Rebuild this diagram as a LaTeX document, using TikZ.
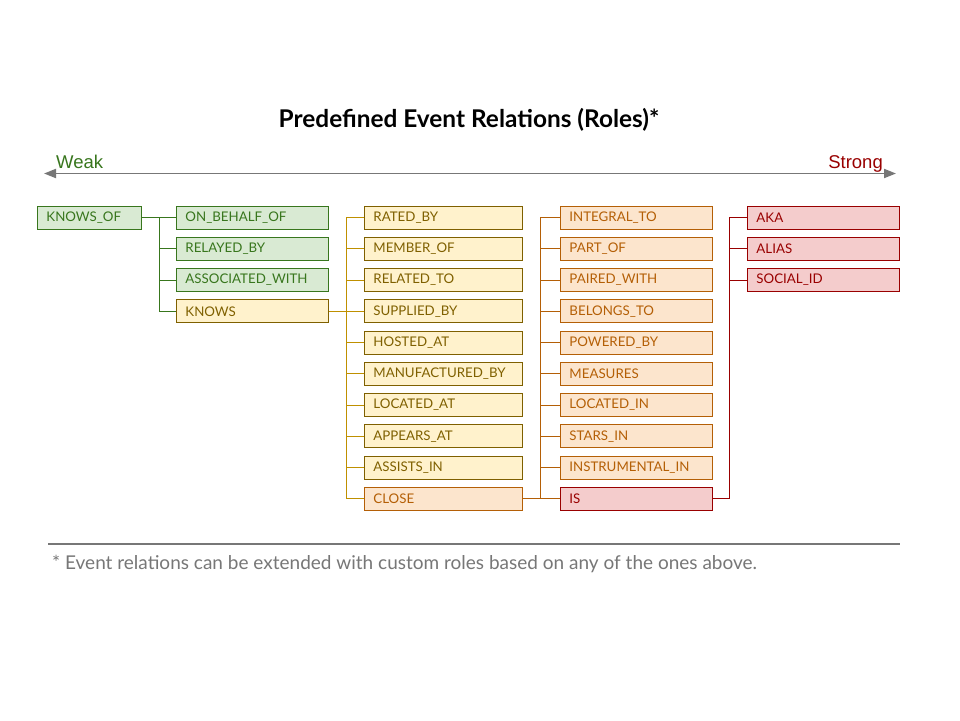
\documentclass[tikz,border=0pt]{standalone}
\usepackage{fontspec}
\setmainfont{Lato}
\newfontfamily\arialfont{Liberation Sans}
\usetikzlibrary{arrows.meta}
\definecolor{gfill}{HTML}{D9EAD3}\definecolor{gline}{HTML}{38761D}
\definecolor{yfill}{HTML}{FFF2CC}\definecolor{yline}{HTML}{7F6000}\definecolor{ycon}{HTML}{BF9000}
\definecolor{ofill}{HTML}{FCE5CD}\definecolor{oline}{HTML}{B45F06}
\definecolor{rfill}{HTML}{F4CCCC}\definecolor{rline}{HTML}{990000}
\definecolor{axis}{HTML}{777777}
\tikzset{
  box/.style={draw, line width=0.9pt, minimum height=23pt, inner xsep=9pt, inner ysep=0pt,
    anchor=west, align=left, font=\fontsize{13.3}{13.3}\selectfont},
  gbox/.style={box, fill=gfill, draw=gline, text=gline},
  ybox/.style={box, fill=yfill, draw=yline, text=yline},
  obox/.style={box, fill=ofill, draw=oline, text=oline},
  rbox/.style={box, fill=rfill, draw=rline, text=rline},
  w1/.style={text width=86pt}, w2/.style={text width=134pt}, w3/.style={text width=140pt},
  con/.style={line width=0.9pt},
}
\begin{document}
\begin{tikzpicture}[x=1pt,y=-1pt]
\useasboundingbox (0,0) rectangle (960,720);
\fill[white] (0,0) rectangle (960,720);
% title
\node[font=\fontsize{24.4}{24.4}\selectfont\bfseries] (title) at (469,119.5) {Predefined Event Relations (Roles)*};
% axis
\coordinate (aL) at (44,173.5);
\coordinate (aR) at (896,173.5);
\draw[axis, line width=1.8pt, {Triangle[length=12pt,width=9pt]}-{Triangle[length=12pt,width=9pt]}] (aL) -- (aR);
\node[font=\arialfont\fontsize{18.5}{18.5}\selectfont, text=gline, anchor=base west, inner sep=0pt] (weak) at (56,168) {Weak};
\node[font=\arialfont\fontsize{18.5}{18.5}\selectfont, text=rline, anchor=base east, inner sep=0pt] (strong) at (883,168) {Strong};
% column 1
\node[gbox,w1] (ko) at (37,217.5) {KNOWS\_OF};
% column 2
\node[gbox,w2] (obo) at (176,217.5) {ON\_BEHALF\_OF};
\node[gbox,w2] (rel) at (176,248.75) {RELAYED\_BY};
\node[gbox,w2] (asw) at (176,280) {ASSOCIATED\_WITH};
\node[ybox,w2] (kn) at (176,311.25) {KNOWS};
% column 3
\node[ybox,w3] (c3a) at (364,217.5) {RATED\_BY};
\node[ybox,w3] (c3b) at (364,248.75) {MEMBER\_OF};
\node[ybox,w3] (c3c) at (364,280) {RELATED\_TO};
\node[ybox,w3] (c3d) at (364,311.25) {SUPPLIED\_BY};
\node[ybox,w3] (c3e) at (364,342.5) {HOSTED\_AT};
\node[ybox,w3] (c3f) at (364,373.75) {MANUFACTURED\_BY};
\node[ybox,w3] (c3g) at (364,405) {LOCATED\_AT};
\node[ybox,w3] (c3h) at (364,436.25) {APPEARS\_AT};
\node[ybox,w3] (c3i) at (364,467.5) {ASSISTS\_IN};
\node[obox,w3] (cl) at (364,498.75) {CLOSE};
% column 4
\node[obox,w2] (c4a) at (560,217.5) {INTEGRAL\_TO};
\node[obox,w2] (c4b) at (560,248.75) {PART\_OF};
\node[obox,w2] (c4c) at (560,280) {PAIRED\_WITH};
\node[obox,w2] (c4d) at (560,311.25) {BELONGS\_TO};
\node[obox,w2] (c4e) at (560,342.5) {POWERED\_BY};
\node[obox,w2] (c4f) at (560,373.75) {MEASURES};
\node[obox,w2] (c4g) at (560,405) {LOCATED\_IN};
\node[obox,w2] (c4h) at (560,436.25) {STARS\_IN};
\node[obox,w2] (c4i) at (560,467.5) {INSTRUMENTAL\_IN};
\node[rbox,w2] (is) at (560,498.75) {IS};
% column 5
\node[rbox,w2] (aka) at (747,217.5) {AKA};
\node[rbox,w2] (ali) at (747,248.75) {ALIAS};
\node[rbox,w2] (soc) at (747,280) {SOCIAL\_ID};
% trunks
\coordinate (t2) at (159.3,0);
\coordinate (t3) at (346.7,0);
\coordinate (t4) at (540.7,0);
\coordinate (t5) at (729.3,0);
% green connectors
\draw[con, gline] (ko.east) -- (obo.west);
\draw[con, gline] (ko.east -| t2) |- (kn.west);
\foreach \n in {rel,asw} \draw[con, gline] (\n.west -| t2) -- (\n.west);
% yellow connectors
\draw[con, ycon] (kn.east) -- (c3d.west);
\draw[con, ycon] (c3a.west) -| (t3 |- cl.west) -- (cl.west);
\foreach \n in {c3b,c3c,c3e,c3f,c3g,c3h,c3i} \draw[con, ycon] (\n.west -| t3) -- (\n.west);
% orange connectors
\draw[con, oline] (cl.east) -- (is.west);
\draw[con, oline] (c4a.west) -| (t4 |- is.west);
\foreach \n in {c4b,c4c,c4d,c4e,c4f,c4g,c4h,c4i} \draw[con, oline] (\n.west -| t4) -- (\n.west);
% red connectors
\draw[con, rline] (is.east) -| (t5 |- aka.west) -- (aka.west);
\foreach \n in {ali,soc} \draw[con, rline] (\n.west -| t5) -- (\n.west);
% footnote
\coordinate (rL) at (48,544);
\coordinate (rR) at (900,544);
\draw[axis, line width=1.5pt] (rL) -- (rR);
\node[anchor=west, inner sep=0pt, text=axis, font=\fontsize{19}{19}\selectfont] (note) at (52,564) {* Event relations can be extended with custom roles based on any of the ones above.};
\end{tikzpicture}
\end{document}
